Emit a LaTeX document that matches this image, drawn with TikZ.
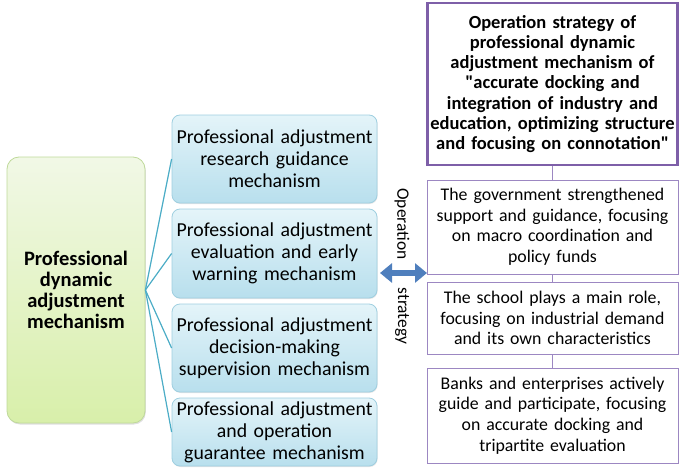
\documentclass[tikz,border=0pt]{standalone}
\usepackage{fontspec}
\setmainfont{Carlito}
\usetikzlibrary{arrows.meta,shadows}
\definecolor{gtop}{HTML}{F1F8E6}
\definecolor{gbot}{HTML}{D8EFAA}
\definecolor{gline}{HTML}{BFD99A}
\definecolor{btop}{HTML}{E4F4F9}
\definecolor{bbot}{HTML}{B8DFED}
\definecolor{bline}{HTML}{9FCFE0}
\definecolor{conn}{HTML}{4BACC6}
\definecolor{purp}{HTML}{7E5FA8}
\definecolor{lpurp}{HTML}{9C87C2}
\definecolor{arr}{HTML}{4F7FBD}
\tikzset{
  greenbox/.style={draw=gline, line width=0.8pt, rounded corners=12pt, top color=gtop, bottom color=gbot,
    align=center, inner sep=0pt, font=\bfseries\fontsize{20.5}{21}\selectfont,
    drop shadow={opacity=0.25, shadow xshift=0.8pt, shadow yshift=-1.5pt}},
  bluebox/.style={draw=bline, line width=0.8pt, rounded corners=8pt, top color=btop, bottom color=bbot,
    align=center, inner sep=0pt, text width=203pt, minimum width=205pt, font=\fontsize{19.8}{22}\selectfont,
    drop shadow={opacity=0.2, shadow xshift=0.6pt, shadow yshift=-1pt}},
  topbox/.style={draw=purp, line width=2.2pt, fill=white, align=center, inner sep=0pt,
    text width=250pt, minimum width=250pt, font=\bfseries\fontsize{18.5}{20.3}\selectfont},
  stratbox/.style={draw=lpurp, line width=0.9pt, fill=white, align=center, inner sep=0pt,
    text width=248pt, minimum width=251pt, font=\fontsize{17.8}{20.5}\selectfont},
  link/.style={draw=conn, line width=1.2pt},
  plink/.style={draw=lpurp, line width=0.9pt},
  sidelabel/.style={rotate=-90, inner sep=0pt, font=\fontsize{17.4}{20}\selectfont}
}
\begin{document}
\begin{tikzpicture}[x=1pt,y=-1pt]
\useasboundingbox (0,0) rectangle (679,468);

% main box
\node[greenbox, minimum width=138pt, minimum height=266pt, text width=134pt] (main) at (76,290)
  {Professional\\dynamic\\adjustment\\mechanism};

% blue boxes
\node[bluebox, minimum height=88pt] (b1) at (274.5,159) {Professional adjustment\\research guidance\\mechanism};
\node[bluebox, minimum height=89pt] (b2) at (274.5,253.5) {Professional adjustment\\evaluation and early\\warning mechanism};
\node[bluebox, minimum height=88pt] (b3) at (274.5,348) {Professional adjustment\\decision-making\\supervision mechanism};
\node[bluebox, minimum height=68pt] (b4) at (274.5,432) {Professional adjustment\\and operation\\guarantee mechanism};

\foreach \b in {b1,b2,b3,b4}{\draw[link] (main.east) -- (\b.west);}

% right boxes
\node[topbox, minimum height=162pt] (t0) at (552.5,84)
  {Operation strategy of\\professional dynamic\\adjustment mechanism of\\\textquotedbl accurate docking and\\integration of industry and\\education, optimizing structure\\and focusing on connotation\textquotedbl};
\node[stratbox, minimum height=94pt] (r1) at (552.5,227)
  {The government strengthened\\support and guidance, focusing\\on macro coordination and\\policy funds};
\node[stratbox, minimum height=72pt] (r2) at (552.5,318)
  {The school plays a main role,\\focusing on industrial demand\\and its own characteristics};
\node[stratbox, minimum height=95pt] (r3) at (552.5,415.5)
  {Banks and enterprises actively\\guide and participate, focusing\\on accurate docking and\\tripartite evaluation};

\draw[plink] (t0.south) -- (r1.north);
\draw[plink] (r1.south) -- (r2.north);
\draw[plink] (r2.south) -- (r3.north);

% side labels
\node[sidelabel] (op) at (402,224) {Operation};
\node[sidelabel] (st) at (402,316) {strategy};

% double arrow
\coordinate (al) at (380,273);
\coordinate (ar) at (427,273);
\draw[draw=arr, line width=6pt, {Triangle[length=12pt,width=19pt]}-{Triangle[length=12pt,width=19pt]}] (al) -- (ar);
\end{tikzpicture}
\end{document}
